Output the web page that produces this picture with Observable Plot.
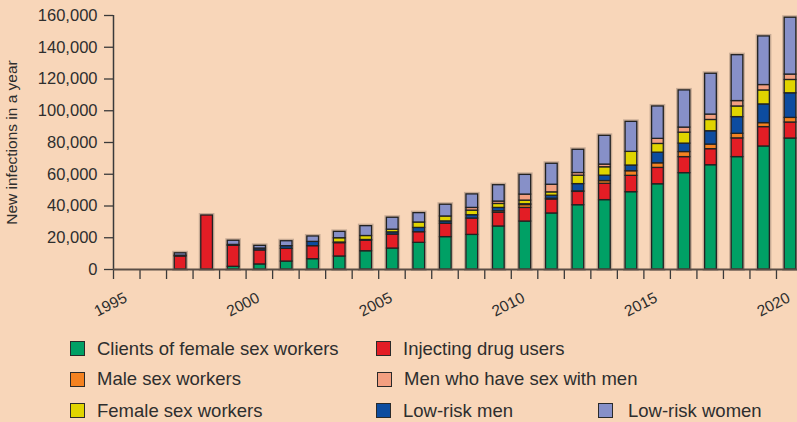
<!DOCTYPE html>
<html><head><meta charset="utf-8">
<script src="https://cdn.jsdelivr.net/npm/d3@7"></script>
<script src="https://cdn.jsdelivr.net/npm/@observablehq/plot@0.6"></script>
<style>
html,body{margin:0;padding:0;background:#F8D6B9;}
body{width:797px;height:422px;position:relative;overflow:hidden;font-family:"Liberation Sans",Arial,sans-serif;color:#2e2e2e;}
#chart{position:absolute;left:0;top:0;}
.item{position:absolute;height:18px;display:flex;align-items:center;font-size:18.5px;white-space:nowrap;line-height:18px;}
.sw{width:13px;height:13px;border:1.5px solid #2a2a2a;flex:none;}
</style>
</head><body>
<div id="chart"></div>
<div id="legend"></div>
<script>
const years = [1997,1998,1999,2000,2001,2002,2003,2004,2005,2006,2007,2008,2009,2010,2011,2012,2013,2014,2015,2016,2017,2018,2019,2020];
const categories = ["Clients of female sex workers","Injecting drug users","Male sex workers","Low-risk men","Female sex workers","Men who have sex with men","Low-risk women"];
const colors = ["#00A065","#E31D25","#F48221","#0D4C9F","#E0D400","#F39F80","#8790C8"];
const clients = [0,0,1700,3200,5000,6500,8200,11500,13200,16800,20400,21800,27100,30200,35300,40500,43700,48700,53700,60700,65700,70800,77500,82500];
const idu     = [8200,34000,13200,8800,8000,8200,8400,6700,8800,6700,8400,10300,8600,8600,8800,8400,10300,10300,10300,10100,10100,11800,12200,10100];
const maleSW  = [0,0,0,0,0,0,0,0,0,0,0,0,1000,1800,500,300,1700,2900,2900,3200,2900,2900,2500,2900];
const lowMen  = [500,0,600,1200,1700,2700,400,400,1400,2700,1500,2100,2100,500,1900,4600,3400,3600,6700,5300,8400,10500,11800,15500];
const femaleSW= [0,0,0,0,0,0,2700,2500,1700,3400,3100,2900,2500,2300,2100,5300,5300,8600,5500,6900,7100,6700,8800,8400];
const msm     = [0,0,0,0,0,0,0,0,0,0,0,1700,1500,3800,4800,1700,1700,0,3200,3200,3400,3400,3400,3400];
const lowWomen= [1500,0,2600,1700,3100,3400,4000,6200,7500,5900,7400,8500,10300,12400,13200,14600,18100,18900,20400,23400,25700,28900,30600,35800];
const yTicks = [0,20000,40000,60000,80000,100000,120000,140000,160000];
const xTickYears = d3.range(1995, 2021);
const xLabelYears = [1995,2000,2005,2010,2015,2020];
const yTitle = "New infections in a year";

const series = [clients, idu, maleSW, lowMen, femaleSW, msm, lowWomen];
const segs = [];
const totals = [];
years.forEach((yr, i) => {
  let acc = 0;
  series.forEach((s, k) => {
    const v = s[i];
    if (v > 0) segs.push({year: yr, category: categories[k], y1: acc, y2: acc + v});
    acc += v;
  });
  totals.push({year: yr, total: acc});
});

const x1 = d => d.year + 0.31, x2 = d => d.year + 0.75;

const chart = Plot.plot({
  width: 797, height: 330,
  marginLeft: 113, marginRight: 0, marginTop: 15, marginBottom: 61,
  style: {background: "transparent", fontFamily: "'Liberation Sans', Arial, sans-serif", fontSize: "16px", color: "#2e2e2e", overflow: "hidden"},
  x: {domain: [1995, 2021], range: [113, 802.5]},
  y: {domain: [0, 160000], range: [269, 15]},
  color: {domain: categories, range: colors},
  marks: [
    Plot.rect(totals, {x1, x2, y1: 0, y2: "total", fill: "none", stroke: "#6a5a50", strokeOpacity: 0.35, strokeWidth: 4}),
    Plot.rect(segs, {x1, x2, y1: "y1", y2: "y2", fill: "category", stroke: "#222", strokeWidth: 1.3}),
    Plot.axisY({ticks: yTicks, tickFormat: d3.format(","), tickSize: 9, tickPadding: 7, fontSize: 16.5, label: null, stroke: "#3a3a3a", strokeWidth: 1.3}),
    Plot.axisX({ticks: xTickYears, tickFormat: () => "", tickSize: 10, label: null, stroke: "#3a3a3a", strokeWidth: 1.3}),
    Plot.ruleX([1995], {y1: 0, y2: 160000, stroke: "#3a3a3a", strokeWidth: 1.5}),
    Plot.ruleY([0], {x1: 1995, x2: 2021, stroke: "#5a4e46", strokeWidth: 2}),
    Plot.text(xLabelYears, {x: d => d, text: d => String(d), frameAnchor: "bottom", dy: 35, dx: -3, rotate: -27, textAnchor: "middle", lineAnchor: "middle", fontSize: 15.5, fill: "#2e2e2e"}),
    Plot.text([yTitle], {frameAnchor: "left", dx: -101, rotate: -90, textAnchor: "middle", lineAnchor: "middle", fontSize: 15.5, fill: "#2e2e2e"})
  ]
});
document.getElementById("chart").appendChild(chart);

const legendLayout = [
  {k: 0, left: 70, cy: 348.5}, {k: 1, left: 376, cy: 348.5},
  {k: 2, left: 70, cy: 379}, {k: 5, left: 377, cy: 379},
  {k: 4, left: 70, cy: 410.5}, {k: 3, left: 376, cy: 410.5}, {k: 6, left: 598, cy: 410.5, gap: 15}
];
const leg = document.getElementById("legend");
legendLayout.forEach(p => {
  const it = document.createElement("div");
  it.className = "item";
  it.style.left = p.left + "px";
  it.style.top = (p.cy - 9) + "px";
  const sw = document.createElement("span");
  sw.className = "sw";
  sw.style.background = colors[p.k];
  sw.style.marginRight = (p.gap || 12) + "px";
  const t = document.createElement("span");
  t.textContent = categories[p.k];
  it.appendChild(sw); it.appendChild(t);
  leg.appendChild(it);
});
</script>
</body></html>
